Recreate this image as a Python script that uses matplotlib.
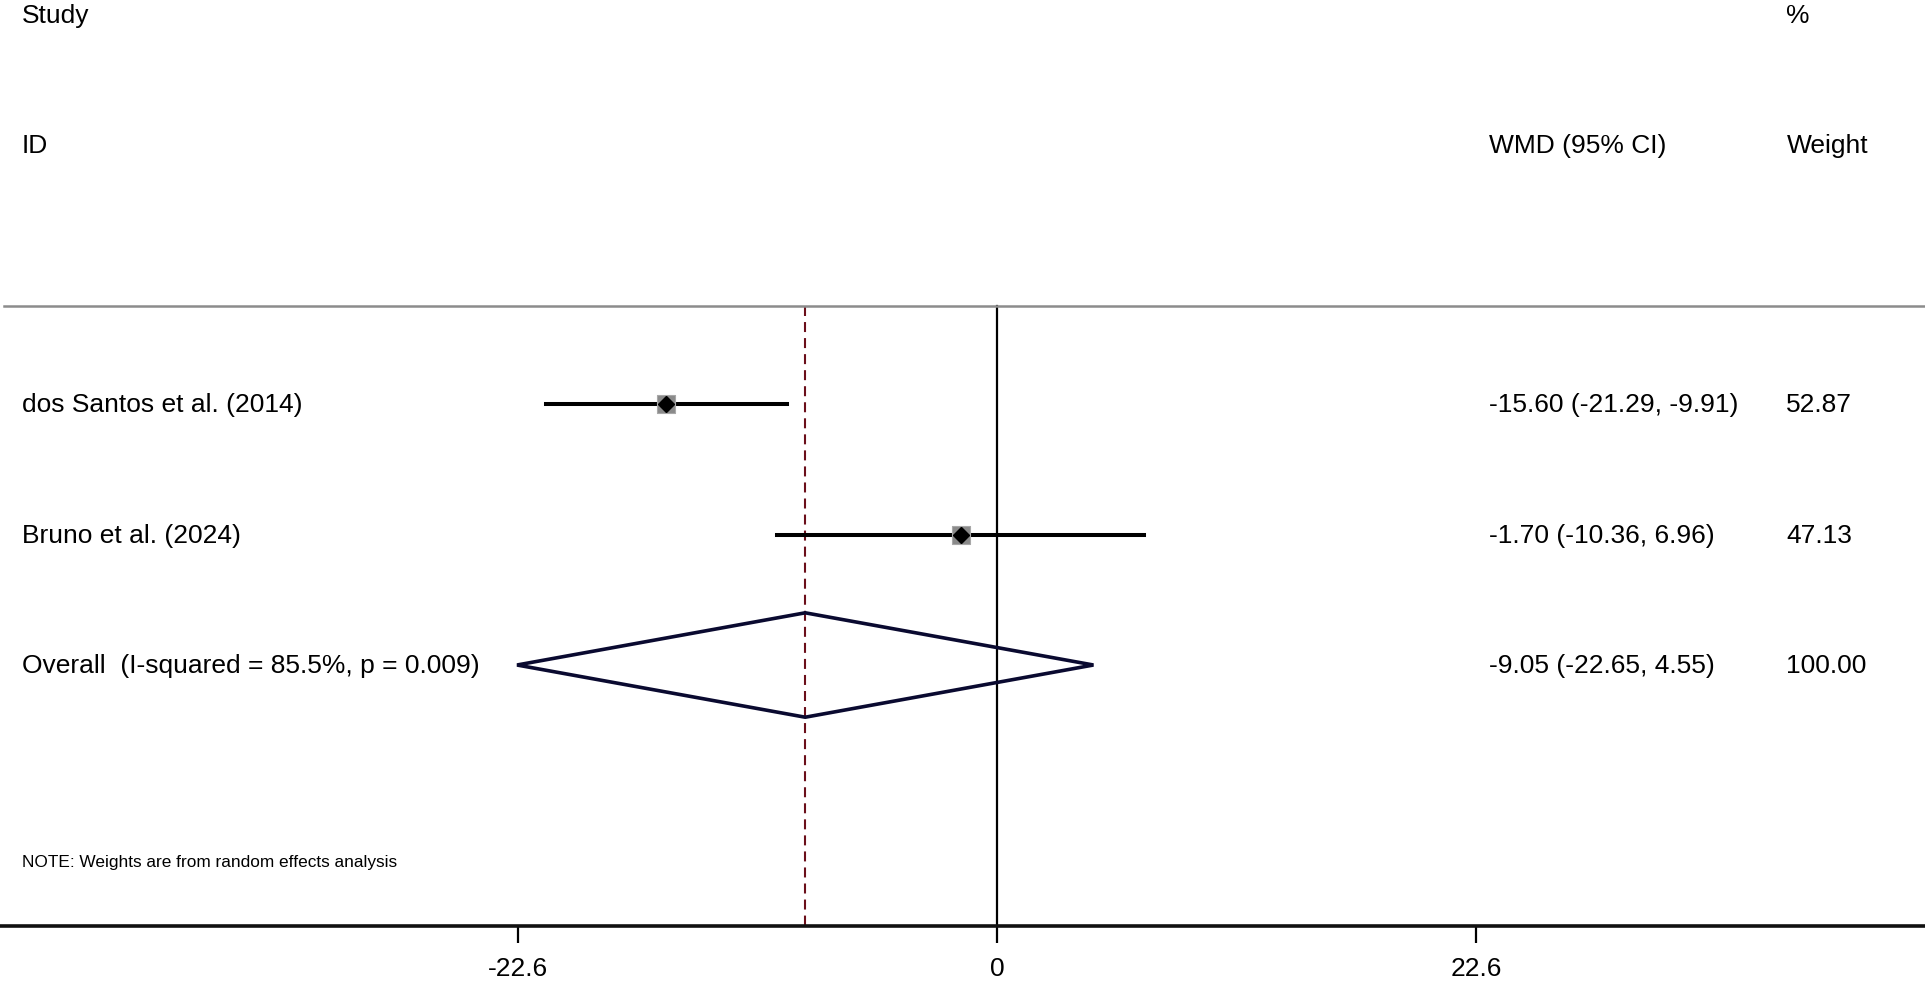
import numpy as np
import matplotlib
matplotlib.use("Agg")
import matplotlib.pyplot as plt
import matplotlib.transforms as mtransforms

plt.rcParams['font.family'] = ['Liberation Sans', 'DejaVu Sans']

# Datos del forest plot
estudios = ["dos Santos et al. (2014)", "Bruno et al. (2024)"]
wmd = [-15.60, -1.70]
ic_inf = [-21.29, -10.36]
ic_sup = [-9.91, 6.96]
pesos = [52.87, 47.13]

# Efecto global (efectos aleatorios)
global_wmd = -9.05
global_inf = -22.65
global_sup = 4.55
i2 = 85.5
p_valor = 0.009

ticks = [-22.6, 0, 22.6]
tick_labels = ["-22.6", "0", "22.6"]

fig = plt.figure(figsize=(19.25, 9.82), dpi=100)
ax = fig.add_axes([0, 56 / 982, 1, 926 / 982])
ax.set_xlim(-997 / 21.19, (1925 - 997) / 21.19)
ax.set_ylim(4.0, -3.096)

for s in ["top", "left", "right"]:
    ax.spines[s].set_visible(False)
ax.spines["bottom"].set_linewidth(2.6)
ax.spines["bottom"].set_color("#111111")
ax.set_yticks([])
ax.set_xticks(ticks)
ax.set_xticklabels(tick_labels, fontsize=19)
ax.tick_params(axis="x", length=12.5, width=1.6, pad=10, color="black")

trans = mtransforms.blended_transform_factory(ax.transAxes, ax.transData)
fs = 19

# Encabezados
ax.text(0.0114, -2.97, "Study", transform=trans, fontsize=fs, va="center")
ax.text(0.0114, -1.98, "ID", transform=trans, fontsize=fs, va="center")
ax.text(0.928, -2.97, "%", transform=trans, fontsize=fs, va="center")
ax.text(0.7735, -1.98, "WMD (95% CI)", transform=trans, fontsize=fs, va="center")
ax.text(0.928, -1.98, "Weight", transform=trans, fontsize=fs, va="center")

y_linea = -0.75
ax.plot([0.002, 1], [y_linea, y_linea], transform=trans, color="#8c8c8c", lw=1.8)

# Lineas de referencia
ax.plot([0, 0], [y_linea, 4.0], color="black", lw=1.6, zorder=1)
ax.plot([global_wmd, global_wmd], [y_linea, 4.0], color="#6b0f1a", lw=1.5,
        dashes=(4.8, 2.9), zorder=1)

# Estudios individuales
for i, (nombre, m, lo, hi, w) in enumerate(zip(estudios, wmd, ic_inf, ic_sup, pesos)):
    ax.plot([lo, hi], [i, i], color="black", lw=2.9, zorder=2)
    ax.scatter([m], [i], marker="s", s=w * 3.2, color="#8a8a8a",
               edgecolors="#a8a8a8", linewidths=0.8, zorder=3)
    ax.plot([m], [i], marker="D", markersize=8.5, color="black", zorder=4)
    ax.text(0.0114, i + 0.01, nombre, transform=trans, fontsize=fs, va="center")
    ax.text(0.7735, i + 0.01, f"{m:.2f} ({lo:.2f}, {hi:.2f})", transform=trans,
            fontsize=fs, va="center")
    ax.text(0.928, i + 0.01, f"{w:.2f}", transform=trans, fontsize=fs, va="center")

# Diamante global
yg = len(estudios)
h = 0.4
ax.fill([global_inf, global_wmd, global_sup, global_wmd, global_inf],
        [yg, yg - h, yg, yg + h, yg], facecolor="none", edgecolor="#0a0a30",
        lw=2.6, zorder=3)
ax.text(0.0114, yg + 0.01, f"Overall  (I-squared = {i2:.1f}%, p = {p_valor:.3f})",
        transform=trans, fontsize=fs, va="center")
ax.text(0.7735, yg + 0.01, f"{global_wmd:.2f} ({global_inf:.2f}, {global_sup:.2f})",
        transform=trans, fontsize=fs, va="center")
ax.text(0.928, yg + 0.01, f"{sum(pesos):.2f}", transform=trans, fontsize=fs, va="center")

ax.text(0.0114, 3.51, "NOTE: Weights are from random effects analysis",
        transform=trans, fontsize=12.4, va="center")

fig.savefig("out.png", dpi=100)
